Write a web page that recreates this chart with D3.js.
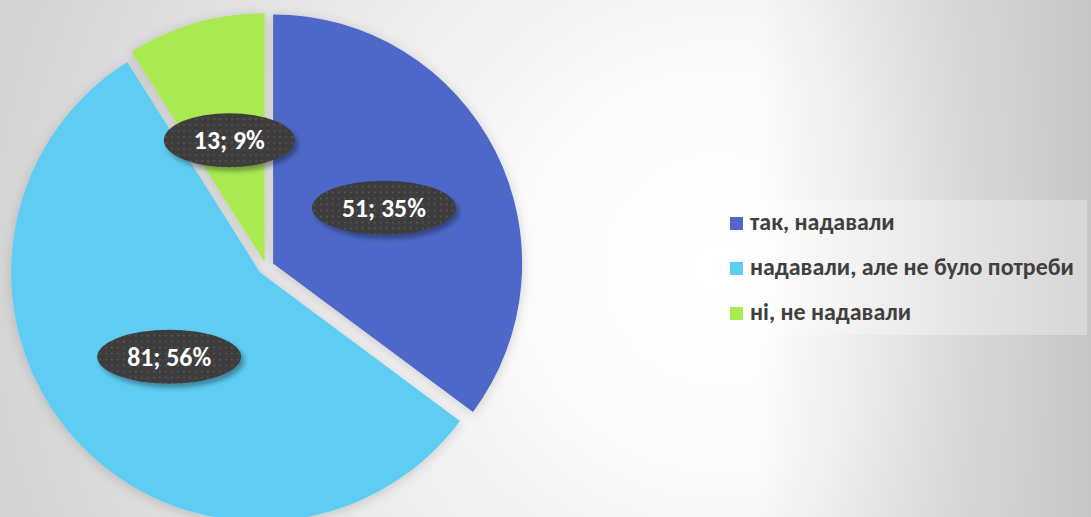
<!DOCTYPE html>
<html>
<head>
<meta charset="utf-8">
<script src="https://cdn.jsdelivr.net/npm/d3@7"></script>
<style>
  html, body { margin: 0; padding: 0; overflow: hidden; background: #fff; }
  svg { display: block; }
</style>
</head>
<body>
<svg id="chart"></svg>
<script>
"use strict";

/* data */
const categories = ['так, надавали', 'надавали, але не було потреби', 'ні, не надавали'];
const values = [51, 81, 13];

/* styles */
const colors = ['#4e67c8', '#5ecdf3', '#a9ea52'];
const explode = [8, 8, 5];
const fontFamily = "Carlito, Lato, 'Open Sans', sans-serif";

const W = 1091, H = 517;
const svg = d3.select('#chart').attr('width', W).attr('height', H);
const defs = svg.append('defs');

/* background: radial + right side linear shade */
let radial = defs.append('radialGradient')
  .attr('id', 'bg-radial')
  .attr('gradientUnits', 'userSpaceOnUse')
  .attr('cx', 720).attr('cy', 270).attr('r', 800);
radial.append('stop').attr('offset', '0').attr('stop-color', '#ffffff');
radial.append('stop').attr('offset', '0.25').attr('stop-color', '#fbfbfb');
radial.append('stop').attr('offset', '1').attr('stop-color', '#d0d0d0');

let rightShade = defs.append('linearGradient')
  .attr('id', 'bg-right')
  .attr('gradientUnits', 'userSpaceOnUse')
  .attr('x1', 760).attr('y1', 0).attr('x2', 1091).attr('y2', 0);
rightShade.append('stop').attr('offset', '0').attr('stop-color', '#c6c6c6').attr('stop-opacity', 0);
rightShade.append('stop').attr('offset', '1').attr('stop-color', '#c6c6c6').attr('stop-opacity', 1);

svg.append('rect').attr('width', W).attr('height', H).attr('fill', 'url(#bg-radial)');
svg.append('rect').attr('x', 760).attr('width', W - 760).attr('height', H).attr('fill', 'url(#bg-right)');

/* slice shadow */
let sliceShadow = defs.append('filter').attr('id', 'slice-shadow')
  .attr('x', '-20%').attr('y', '-20%').attr('width', '140%').attr('height', '140%');
sliceShadow.append('feGaussianBlur').attr('in', 'SourceAlpha').attr('stdDeviation', 6).attr('result', 'blur');
sliceShadow.append('feOffset').attr('in', 'blur').attr('dx', 0).attr('dy', 2).attr('result', 'off');
sliceShadow.append('feComponentTransfer').attr('in', 'off').attr('result', 'shadow')
  .append('feFuncA').attr('type', 'linear').attr('slope', 0.17);
let sm = sliceShadow.append('feMerge');
sm.append('feMergeNode').attr('in', 'shadow');
sm.append('feMergeNode').attr('in', 'SourceGraphic');

/* label shadow */
let labelShadow = defs.append('filter').attr('id', 'label-shadow')
  .attr('x', '-20%').attr('y', '-30%').attr('width', '150%').attr('height', '170%');
labelShadow.append('feGaussianBlur').attr('in', 'SourceAlpha').attr('stdDeviation', 2.5).attr('result', 'blur');
labelShadow.append('feOffset').attr('in', 'blur').attr('dx', 3).attr('dy', 4).attr('result', 'off');
labelShadow.append('feComponentTransfer').attr('in', 'off').attr('result', 'shadow')
  .append('feFuncA').attr('type', 'linear').attr('slope', 0.35);
let lm = labelShadow.append('feMerge');
lm.append('feMergeNode').attr('in', 'shadow');
lm.append('feMergeNode').attr('in', 'SourceGraphic');

/* dotted pattern for the label bubbles */
let dots = defs.append('pattern').attr('id', 'dots')
  .attr('patternUnits', 'userSpaceOnUse').attr('width', 6).attr('height', 6);
dots.append('rect').attr('width', 6).attr('height', 6).attr('fill', '#3d3d3d');
dots.append('rect').attr('x', 2).attr('y', 2).attr('width', 1.5).attr('height', 1.5).attr('fill', '#5e5e5e');

/* pie */
const center = { x: 266, y: 267 };
const radius = 249;
const labelRadius = 132;

let pie = d3.pie().sort(null).value(d => d).startAngle(0).endAngle(2 * Math.PI);
let arcs = pie(values);
let arc = d3.arc().innerRadius(0).outerRadius(radius);
let total = d3.sum(values);

let pieG = svg.append('g')
  .attr('transform', `translate(${center.x},${center.y})`);

pieG.selectAll('path.slice')
  .data(arcs)
  .enter()
  .append('path')
  .attr('class', 'slice')
  .attr('filter', 'url(#slice-shadow)')
  .attr('fill', (d, i) => colors[i])
  .attr('transform', (d, i) => {
    let a = (d.startAngle + d.endAngle) / 2;
    return `translate(${explode[i] * Math.sin(a)},${-explode[i] * Math.cos(a)})`;
  })
  .attr('d', arc);

/* data labels */
let labelG = pieG.selectAll('g.label')
  .data(arcs)
  .enter()
  .append('g')
  .attr('class', 'label')
  .attr('transform', d => {
    let a = (d.startAngle + d.endAngle) / 2;
    return `translate(${labelRadius * Math.sin(a)},${-labelRadius * Math.cos(a)})`;
  });

let labelEll = labelG.append('ellipse')
  .attr('fill', 'url(#dots)')
  .attr('filter', 'url(#label-shadow)')
  .attr('ry', 27);

let labelText = labelG.append('text')
  .attr('text-anchor', 'middle')
  .attr('dy', '0.36em')
  .style('font-family', fontFamily)
  .style('font-weight', 'bold')
  .style('font-size', '23px')
  .attr('fill', '#ffffff')
  .text(d => `${d.value}; ${Math.round(d.value / total * 100)}%`);

/* size the label font so "51; 35%" is as wide as in the reference */
let firstW = labelText.nodes()[0].getComputedTextLength();
labelText.style('font-size', `${23 * 84 / firstW}px`);

labelText.each(function(d, i) {
  let w = this.getComputedTextLength();
  d3.select(labelEll.nodes()[i]).attr('rx', w / 2 + 30);
});

/* legend */
const legend = { x: 718, y: 200, width: 369, height: 135, rowStep: 45, firstBaseline: 230 };
svg.append('rect')
  .attr('x', legend.x).attr('y', legend.y)
  .attr('width', legend.width).attr('height', legend.height)
  .attr('fill', '#ffffff').attr('fill-opacity', 0.3);

let legendRows = svg.selectAll('g.legend-row')
  .data(categories)
  .enter()
  .append('g')
  .attr('class', 'legend-row')
  .attr('transform', (d, i) => `translate(${legend.x + 12},${legend.firstBaseline + i * legend.rowStep})`);

legendRows.append('rect')
  .attr('x', 0).attr('y', -13)
  .attr('width', 13).attr('height', 13)
  .attr('fill', (d, i) => colors[i]);

let legendText = legendRows.append('text')
  .attr('x', 20)
  .attr('y', 0)
  .style('font-family', fontFamily)
  .style('font-weight', 'bold')
  .style('font-size', '20px')
  .attr('fill', '#404040')
  .text(d => d);

/* fit the longest entry to the width it has in the reference */
let longest = d3.max(legendText.nodes(), n => n.getComputedTextLength());
legendText.style('font-size', `${20 * 324 / longest}px`);
</script>
</body>
</html>
